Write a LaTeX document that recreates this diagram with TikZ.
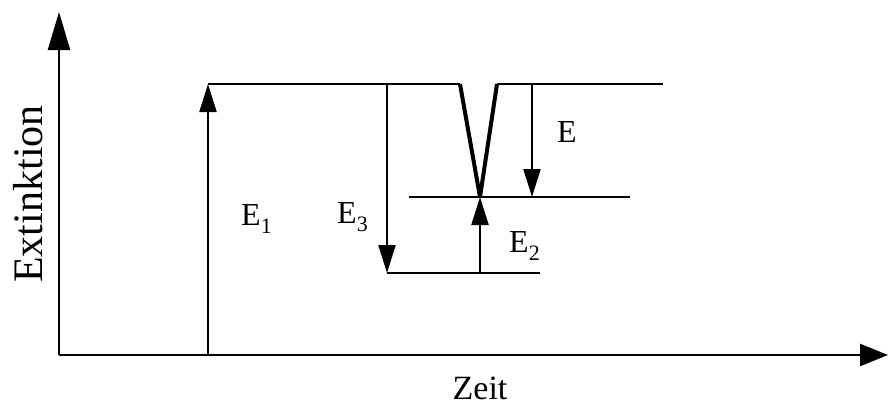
\documentclass[tikz,border=0pt]{standalone}
\usepackage{fontspec}
\setmainfont{Liberation Serif}
\usetikzlibrary{arrows.meta}
\newcommand{\levsub}[1]{\raisebox{-8pt}{\fontsize{22}{22}\selectfont #1}}

\begin{document}
\begin{tikzpicture}[x=1pt,y=-1pt,
  every node/.style={font=\fontsize{32}{32}\selectfont, inner sep=0pt},
  level/.style={line width=2.8pt},
  trans/.style={line width=2.2pt,-{Triangle[length=28pt,width=17pt]}}]
\useasboundingbox (0,0) rectangle (890,407);
% axes
\coordinate (o)    at (59,355);
\coordinate (ytip) at (59,12);
\coordinate (xtip) at (888,355);
\draw[line width=2.4pt,-{Triangle[length=38pt,width=22pt]}] (o) -- (ytip);
\draw[line width=2.4pt,-{Triangle[length=28pt,width=22pt]}] (o) -- (xtip);
\node[rotate=90, font=\fontsize{42}{42}\selectfont] (ylab) at (28,194) {Extinktion};
\node[font=\fontsize{34}{34}\selectfont, anchor=base, text depth=0pt] (xlab) at (480,399) {Zeit};
% levels
\coordinate (a0) at (208,84);
\coordinate (a1) at (460,84);
\coordinate (v)  at (480,197);
\coordinate (a2) at (497,84);
\coordinate (a3) at (663,84);
\coordinate (b0) at (409,197);
\coordinate (b1) at (630,197);
\coordinate (c0) at (387,273);
\coordinate (c1) at (540,273);
\draw[level] (a0) -- (a1);
\draw[level] (a2) -- (a3);
\draw[level] (b0) -- (b1);
\draw[level] (c0) -- (c1);
\draw[line width=4pt] (a1) -- (v);
\draw[line width=4pt] (a2) -- (v);
% transitions
\coordinate (e1s) at (208,355);
\coordinate (e3s) at (387,84);
\coordinate (e2s) at (480,273);
\coordinate (es)  at (532,84);
\coordinate (ee)  at (532,197);
\draw[trans] (e1s) -- (a0);
\draw[trans] (e3s) -- (c0);
\draw[trans] (e2s) -- (v);
\draw[trans] (es) -- (ee);
\node[anchor=base west] (l1) at (241,225) {E\levsub{1}};
\node[anchor=base west] (l3) at (337,223) {E\levsub{3}};
\node[anchor=base west] (l2) at (509,252) {E\levsub{2}};
\node[anchor=base west] (l)  at (557,142) {E};
\end{tikzpicture}
\end{document}
